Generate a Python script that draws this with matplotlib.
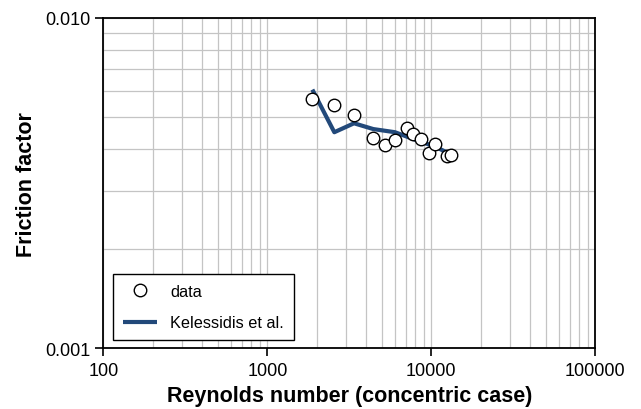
import matplotlib
matplotlib.use("Agg")
import matplotlib.pyplot as plt
from matplotlib.ticker import LogLocator, FixedLocator, NullFormatter

plt.rcParams['font.family'] = ['Liberation Sans', 'DejaVu Sans']

# measured friction factors vs Reynolds number
re_data = [1882, 2541, 3378, 4430, 5243, 6007, 7079, 7766, 8617, 9723, 10534, 12417, 13185]
f_data = [0.00569, 0.00544, 0.00509, 0.00434, 0.00412, 0.00427, 0.00463, 0.00446,
          0.00430, 0.00389, 0.00415, 0.00383, 0.00384]

# Kelessidis et al. prediction
re_model = [1882, 2562, 3378, 4430, 6007, 7766, 10534, 12417]
f_model = [0.00607, 0.00451, 0.00480, 0.00461, 0.00451, 0.00430, 0.00408, 0.00392]

xticks = [100, 1000, 10000, 100000]
xticklabels = ['100', '1000', '10000', '100000']
yticks = [0.001, 0.010]
yticklabels = ['0.001', '0.010']

fig = plt.figure(figsize=(6.41, 4.10), dpi=100)
ax = fig.add_axes([0.1612, 0.148, 0.9287 - 0.1612, 0.9537 - 0.148])

ax.plot(re_model, f_model, color='#22497a', lw=3.0, solid_capstyle='butt',
        label='Kelessidis et al.', zorder=3)
ax.plot(re_data, f_data, 'o', ms=9, mfc='white', mec='black', mew=1.0,
        label='data', zorder=4)

ax.set_xscale('log')
ax.set_yscale('log')
ax.set_xlim(100, 100000)
ax.set_ylim(0.001, 0.010)

ax.xaxis.set_major_locator(FixedLocator(xticks))
ax.set_xticklabels(xticklabels)
ax.yaxis.set_major_locator(FixedLocator(yticks))
ax.set_yticklabels(yticklabels)
ax.xaxis.set_minor_locator(LogLocator(base=10, subs=range(2, 10)))
ax.yaxis.set_minor_locator(FixedLocator([i * 0.001 for i in range(2, 10)]))
ax.xaxis.set_minor_formatter(NullFormatter())
ax.yaxis.set_minor_formatter(NullFormatter())

ax.tick_params(which='major', direction='out', length=6, width=1.2, labelsize=13,
               colors='black')
ax.tick_params(which='minor', length=0)
ax.grid(True, which='both', color='#c4c4c4', lw=0.9)
ax.set_axisbelow(True)
for s in ax.spines.values():
    s.set_linewidth(1.3)
    s.set_color('black')

ax.set_xlabel('Reynolds number (concentric case)', fontsize=15.5, fontweight='bold', labelpad=5)
ax.set_ylabel('Friction factor', fontsize=15.5, fontweight='bold', labelpad=6)

h, l = ax.get_legend_handles_labels()
leg = ax.legend(h[::-1], l[::-1], loc='lower left', bbox_to_anchor=(0.02, 0.025),
                borderaxespad=0, fontsize=11.7, fancybox=False, edgecolor='black',
                framealpha=1, handlelength=2.1, handletextpad=0.8, borderpad=0.6,
                labelspacing=1.0, numpoints=1)
leg.get_frame().set_linewidth(1.0)

plt.savefig('out.png', dpi=100)
